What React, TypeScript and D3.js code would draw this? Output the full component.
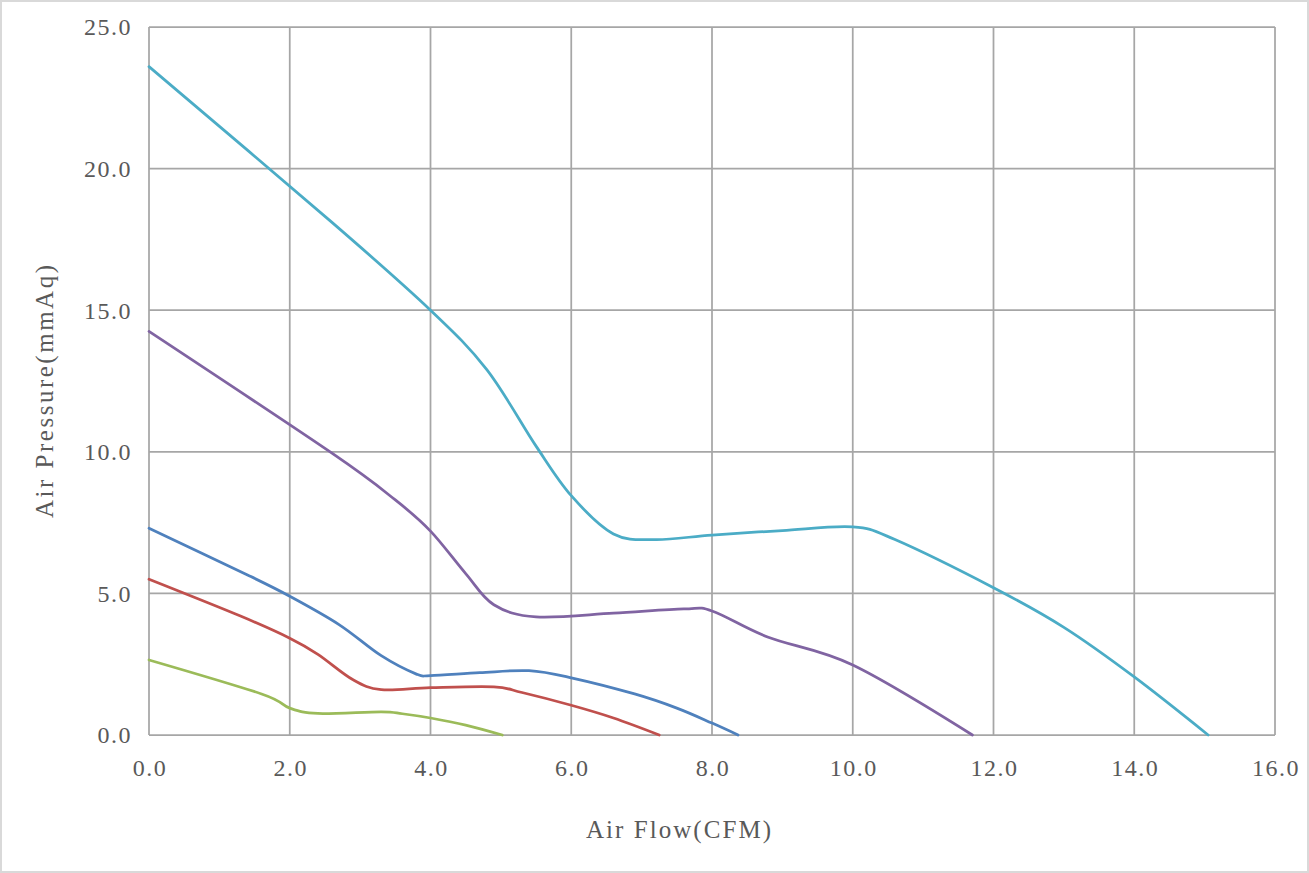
import * as d3 from 'd3';
import { useEffect, useRef } from 'react';

// fan P-Q curves
const xTicks = [0, 2, 4, 6, 8, 10, 12, 14, 16];
const yTicks = [0, 5, 10, 15, 20, 25];

const curveCyan: [number, number][] = [
  [0, 23.6], [2.6, 18.1], [4.0, 15.0], [4.8, 12.9], [5.5, 10.2], [6.0, 8.45],
  [6.6, 7.1], [7.2, 6.9], [8.0, 7.06], [9.0, 7.22], [10.0, 7.35], [10.6, 6.9],
  [12.0, 5.2], [13.0, 3.8], [14.0, 2.05], [15.05, 0],
];
const curvePurple: [number, number][] = [
  [0, 14.25], [2.6, 9.95], [3.5, 8.3], [4.0, 7.2], [4.5, 5.7], [4.9, 4.6],
  [5.5, 4.17], [6.6, 4.3], [7.6, 4.45], [8.0, 4.38], [8.8, 3.45], [10.0, 2.47], [11.7, 0],
];
const curveBlue: [number, number][] = [
  [0, 7.3], [1.4, 5.65], [2.0, 4.9], [2.7, 3.9], [3.3, 2.8], [3.8, 2.15], [4.0, 2.1],
  [4.7, 2.2], [5.4, 2.27], [6.0, 2.02], [6.9, 1.45], [7.5, 0.95], [8.0, 0.42], [8.37, 0],
];
const curveRed: [number, number][] = [
  [0, 5.5], [1.3, 4.2], [2.0, 3.42], [2.4, 2.85], [2.9, 1.95], [3.3, 1.6], [4.0, 1.67],
  [4.9, 1.7], [5.3, 1.5], [6.0, 1.05], [6.6, 0.6], [7.25, 0],
];
const curveGreen: [number, number][] = [
  [0, 2.65], [1.6, 1.45], [2.0, 0.95], [2.4, 0.76], [3.3, 0.82], [3.6, 0.75],
  [4.0, 0.6], [4.5, 0.35], [5.02, 0],
];

const seriesList = [
  { values: curveCyan, color: '#4BACC6' },
  { values: curvePurple, color: '#8064A2' },
  { values: curveBlue, color: '#4F81BD' },
  { values: curveRed, color: '#C0504D' },
  { values: curveGreen, color: '#9BBB59' },
];

export default function App() {
  const svgRef = useRef<SVGSVGElement | null>(null);
  const width = 1309;
  const height = 873;

  useEffect(() => {
    const margin = { top: 27, right: 34, bottom: 138, left: 149 };
    const innerWidth = width - margin.left - margin.right;
    const innerHeight = height - margin.top - margin.bottom;
    const font = '"Liberation Serif", "DejaVu Serif", serif';
    const textColor = '#595959';

    const svg = d3.select(svgRef.current);
    svg.selectAll('*').remove();

    svg.append('rect')
      .attr('x', 1).attr('y', 1)
      .attr('width', width - 2).attr('height', height - 2)
      .attr('fill', '#fff')
      .attr('stroke', '#d9d9d9')
      .attr('stroke-width', 2);

    const g = svg.append('g').attr('transform', `translate(${margin.left},${margin.top})`);

    const x = d3.scaleLinear().domain([0, 16]).range([0, innerWidth]);
    const y = d3.scaleLinear().domain([0, 25]).range([innerHeight, 0]);

    // grid
    g.selectAll('.vgrid')
      .data(xTicks)
      .enter()
      .append('line')
      .attr('x1', d => x(d)).attr('x2', d => x(d))
      .attr('y1', 0).attr('y2', innerHeight)
      .attr('stroke', '#a6a6a6')
      .attr('stroke-width', 1.75);

    g.selectAll('.hgrid')
      .data(yTicks)
      .enter()
      .append('line')
      .attr('x1', 0).attr('x2', innerWidth)
      .attr('y1', d => y(d)).attr('y2', d => y(d))
      .attr('stroke', '#a6a6a6')
      .attr('stroke-width', 1.75);

    // tick labels
    g.selectAll('.ylab')
      .data(yTicks)
      .enter()
      .append('text')
      .attr('x', -17)
      .attr('y', d => y(d))
      .attr('dy', '0.35em')
      .attr('text-anchor', 'end')
      .style('font-family', font)
      .style('font-size', '24px')
      .style('letter-spacing', '1.5px')
      .attr('fill', textColor)
      .text(d => d.toFixed(1));

    g.selectAll('.xlab')
      .data(xTicks)
      .enter()
      .append('text')
      .attr('x', d => x(d) + 1)
      .attr('y', innerHeight + 33)
      .attr('dy', '0.35em')
      .attr('text-anchor', 'middle')
      .style('font-family', font)
      .style('font-size', '24px')
      .style('letter-spacing', '1.5px')
      .attr('fill', textColor)
      .text(d => d.toFixed(1));

    // axis titles
    svg.append('text')
      .attr('x', 586)
      .attr('y', 829)
      .attr('dy', '0.35em')
      .attr('textLength', 185)
      .attr('lengthAdjust', 'spacing')
      .style('font-family', font)
      .style('font-size', '25px')
      .attr('fill', textColor)
      .text('Air Flow(CFM)');

    svg.append('text')
      .attr('transform', `translate(44, 518) rotate(-90)`)
      .attr('dy', '0.35em')
      .attr('textLength', 253)
      .attr('lengthAdjust', 'spacing')
      .style('font-family', font)
      .style('font-size', '25px')
      .attr('fill', textColor)
      .text('Air Pressure(mmAq)');

    const line = d3.line<[number, number]>()
      .x(d => x(d[0]))
      .y(d => y(d[1]))
      .curve(d3.curveCardinal.tension(0));

    seriesList.forEach((series) => {
      g.append('path')
        .datum(series.values)
        .attr('fill', 'none')
        .attr('stroke', series.color)
        .attr('stroke-width', 2.75)
        .attr('stroke-linecap', 'round')
        .attr('d', line);
    });
  }, []);

  return (
    <div style={{ position: 'absolute', left: 0, top: 0 }}>
      <svg ref={svgRef} width={width} height={height} style={{ display: 'block' }} />
    </div>
  );
}
